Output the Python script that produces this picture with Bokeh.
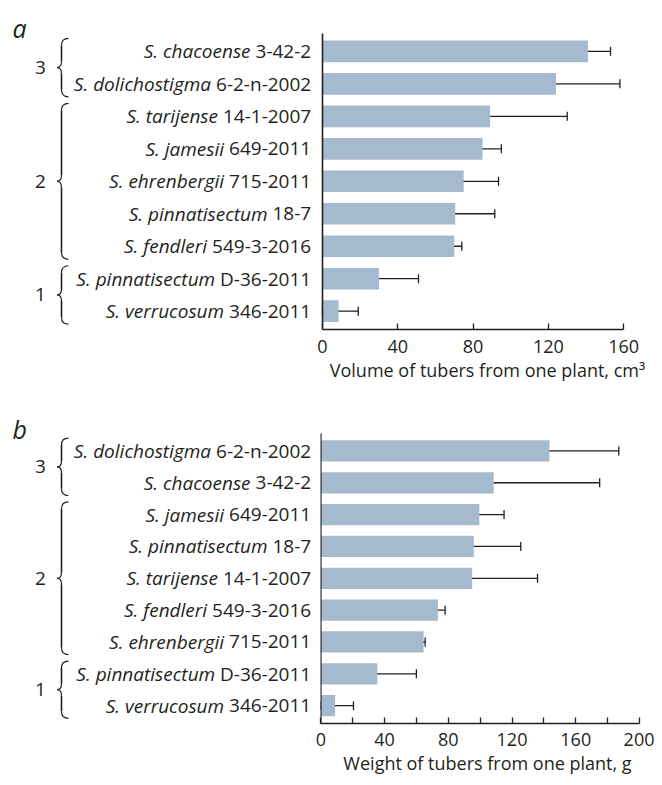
from bokeh.plotting import figure
from bokeh.layouts import column, row
from bokeh.models import Range1d, FixedTicker, Whisker, TeeHead, ColumnDataSource, Label
from bokeh.embed import file_html
from bokeh.resources import INLINE
from bokeh.core.properties import value

FONT = "Open Sans"
INK = "#231f20"
BAR = "#a5b9cf"
FS = 19          # category labels, group numbers
FS_AX = 18       # tick labels and axis titles

# ---------------- data (rows listed top to bottom) ----------------
groups = [3, 3, 2, 2, 2, 2, 2, 1, 1]

species_a = ["S. chacoense", "S. dolichostigma", "S. tarijense", "S. jamesii", "S. ehrenbergii",
             "S. pinnatisectum", "S. fendleri", "S. pinnatisectum", "S. verrucosum"]
codes_a = ["3-42-2", "6-2-n-2002", "14-1-2007", "649-2011", "715-2011",
           "18-7", "549-3-2016", "D-36-2011", "346-2011"]
volume = [141, 124, 89, 85, 75, 70.5, 70, 30, 8.5]
volume_lo = [129, 90, 47.5, 74.5, 55.5, 50.5, 66.5, 8.5, 0]
volume_hi = [153, 158, 130, 95, 93.5, 91.5, 74, 51, 19]
ticks_a = [0, 40, 80, 120, 160]
minor_a = []
xlabel_a = "Volume of tubers from one plant, cm\u00b3"

species_b = ["S. dolichostigma", "S. chacoense", "S. jamesii", "S. pinnatisectum", "S. tarijense",
             "S. fendleri", "S. ehrenbergii", "S. pinnatisectum", "S. verrucosum"]
codes_b = ["6-2-n-2002", "3-42-2", "649-2011", "18-7", "14-1-2007",
           "549-3-2016", "715-2011", "D-36-2011", "346-2011"]
weight = [143.5, 108.5, 99.5, 96, 95, 73.5, 64.5, 35.5, 9]
weight_lo = [99.5, 43, 84.5, 66.5, 55, 70, 62.5, 9.5, 0]
weight_hi = [187, 175, 115, 125.5, 136, 78, 65.5, 60, 20.5]
ticks_b = [0, 40, 80, 120, 160, 200]
minor_b = [20, 60, 100, 140, 180]
xlabel_b = "Weight of tubers from one plant, g"

# approximate Open Sans advance widths (units per em = 2048)
ADV = {" ": 532, "-": 659, "n": 1257, "D": 1479}
for d in "0123456789":
    ADV[d] = 1171


def text_w(s, size):
    return sum(ADV.get(c, 1150) for c in s) / 2048.0 * size


PIC_LEFT = 1       # picture x of the layout's left edge
SPLIT = 313        # picture x where the bar figure begins
PIC_RIGHT = 655
LABEL_RIGHT = 311.7


def panel(letter, species, codes, vals, lo, hi, xlabel, ticks, minor,
          page_top, page_bottom, frame_bottom, x0_px, ppx, y0_px, ppy,
          axis_top_px, tick_standoff, label_standoff, letter_px):
    height = page_bottom - page_top
    bottom_border = page_bottom - frame_bottom

    def X(px):
        return (px - x0_px) / ppx

    def Y(py):
        return (y0_px - py) / ppy

    y_range = Range1d(Y(frame_bottom), Y(page_top))
    n = len(vals)
    ys = [n - 1 - r for r in range(n)]

    # ---------- left figure: labels, braces, group numbers (x in picture pixels) ----------
    lf = figure(width=SPLIT - PIC_LEFT, height=height,
                x_range=Range1d(PIC_LEFT, SPLIT), y_range=y_range,
                output_backend="svg", toolbar_location=None,
                x_axis_type=None, y_axis_type=None,
                min_border=0, min_border_bottom=bottom_border)
    lf.outline_line_color = None
    lf.grid.visible = False

    off_sp = [-text_w(" " + c, FS) for c in codes]
    lsrc = ColumnDataSource(dict(y=ys, sp=species, code=codes, off_sp=off_sp,
                                 x=[LABEL_RIGHT] * n))
    lf.text(x="x", y="y", text="code", source=lsrc,
            text_align="right", text_baseline="middle", text_color=INK,
            text_font=value(FONT), text_font_size=value(f"{FS}px"))
    lf.text(x="x", y="y", text="sp", x_offset="off_sp", source=lsrc,
            text_align="right", text_baseline="middle", text_color=INK,
            text_font=value(FONT), text_font_size=value(f"{FS}px"),
            text_font_style="italic")

    xe, xs, xt = 69, 62, 57.5
    rr, rt = 7.0 / ppy, 6.0 / ppy
    q = dict(x0=[], y0=[], x1=[], y1=[], cx=[], cy=[])
    sg = dict(x0=[], y0=[], x1=[], y1=[])
    gl = dict(x=[], y=[], t=[])
    for g in sorted(set(groups)):
        idx = [ys[r] for r in range(n) if groups[r] == g]
        T = max(idx) + 0.4
        B = min(idx) - 0.4
        M = (T + B) / 2
        for (a0, b0, a1, b1, c0, c1) in [
            (xe, T, xs, T - rr, xs, T),
            (xs, M + rt, xt, M, xs, M),
            (xs, M - rt, xt, M, xs, M),
            (xs, B + rr, xe, B, xs, B),
        ]:
            q["x0"].append(a0); q["y0"].append(b0); q["x1"].append(a1)
            q["y1"].append(b1); q["cx"].append(c0); q["cy"].append(c1)
        for (a0, b0, a1, b1) in [(xs, T - rr, xs, M + rt), (xs, M - rt, xs, B + rr)]:
            sg["x0"].append(a0); sg["y0"].append(b0); sg["x1"].append(a1); sg["y1"].append(b1)
        gl["x"].append(41); gl["y"].append(M); gl["t"].append(str(g))
    lf.quadratic(x0="x0", y0="y0", x1="x1", y1="y1", cx="cx", cy="cy",
                 source=ColumnDataSource(q), line_color=INK, line_width=1.2)
    lf.segment(x0="x0", y0="y0", x1="x1", y1="y1", source=ColumnDataSource(sg),
               line_color=INK, line_width=1.6)
    lf.text(x="x", y="y", text="t", source=ColumnDataSource(gl), text_align="center",
            text_baseline="middle", text_color=INK, text_font=value(FONT),
            text_font_size=value(f"{FS}px"))
    lf.add_layout(Label(x=letter_px[0], y=Y(letter_px[1]), text=letter,
                        text_align="left", text_baseline="alphabetic", text_color=INK,
                        text_font=FONT, text_font_size="25px", text_font_style="italic"))

    # ---------- right figure: bars, error bars, x axis ----------
    border_left = 8
    rf = figure(width=PIC_RIGHT - SPLIT, height=height,
                x_range=Range1d(X(SPLIT + border_left), X(PIC_RIGHT)), y_range=y_range,
                output_backend="svg", toolbar_location=None, y_axis_type=None,
                min_border=0, min_border_left=border_left, min_border_bottom=bottom_border)
    rf.outline_line_color = None
    rf.grid.visible = False

    src = ColumnDataSource(dict(y=ys, v=vals, lo=lo, hi=hi))
    rf.hbar(y="y", left=0, right="v", height=0.667, fill_color=BAR, line_color=None, source=src)
    head = dict(size=9, line_color=INK, line_width=1.3)
    rf.add_layout(Whisker(source=src, base="y", lower="lo", upper="hi", dimension="width",
                          line_color=INK, line_width=1.3,
                          lower_head=TeeHead(**head), upper_head=TeeHead(**head)))
    rf.segment(x0=[0], y0=[Y(frame_bottom)], x1=[0], y1=[Y(axis_top_px)],
               line_color=INK, line_width=1.6)

    ax = rf.xaxis[0]
    ax.bounds = (ticks[0], ticks[-1])
    ax.ticker = FixedTicker(ticks=ticks, minor_ticks=minor)
    ax.axis_line_color = INK
    ax.axis_line_width = 1.6
    ax.major_tick_in = 6
    ax.major_tick_out = 0
    ax.minor_tick_in = 6
    ax.minor_tick_out = 0
    ax.major_tick_line_color = INK
    ax.minor_tick_line_color = INK
    ax.major_tick_line_width = 1.3
    ax.minor_tick_line_width = 1.3
    ax.major_label_standoff = tick_standoff
    ax.major_label_text_font = FONT
    ax.major_label_text_font_size = f"{FS_AX}px"
    ax.major_label_text_color = INK
    ax.axis_label = xlabel
    ax.axis_label_standoff = label_standoff
    ax.axis_label_text_font = FONT
    ax.axis_label_text_font_size = f"{FS_AX}px"
    ax.axis_label_text_font_style = "normal"
    ax.axis_label_text_color = INK
    return row(lf, rf, spacing=0)


pa = panel("a", species_a, codes_a, volume, volume_lo, volume_hi, xlabel_a, ticks_a, minor_a,
           page_top=1, page_bottom=385, frame_bottom=330, x0_px=323, ppx=1.8825,
           y0_px=311.7, ppy=32.48, axis_top_px=34, tick_standoff=10, label_standoff=2,
           letter_px=(13, 28))
pb = panel("b", species_b, codes_b, weight, weight_lo, weight_hi, xlabel_b, ticks_b, minor_b,
           page_top=385, page_bottom=778, frame_bottom=731, x0_px=321.3, ppx=1.5935,
           y0_px=712.8, ppy=32.5, axis_top_px=435, tick_standoff=9, label_standoff=2,
           letter_px=(13, 430))

layout = column(pa, pb, spacing=0)
open("out.html", "w").write(file_html(layout, INLINE))
